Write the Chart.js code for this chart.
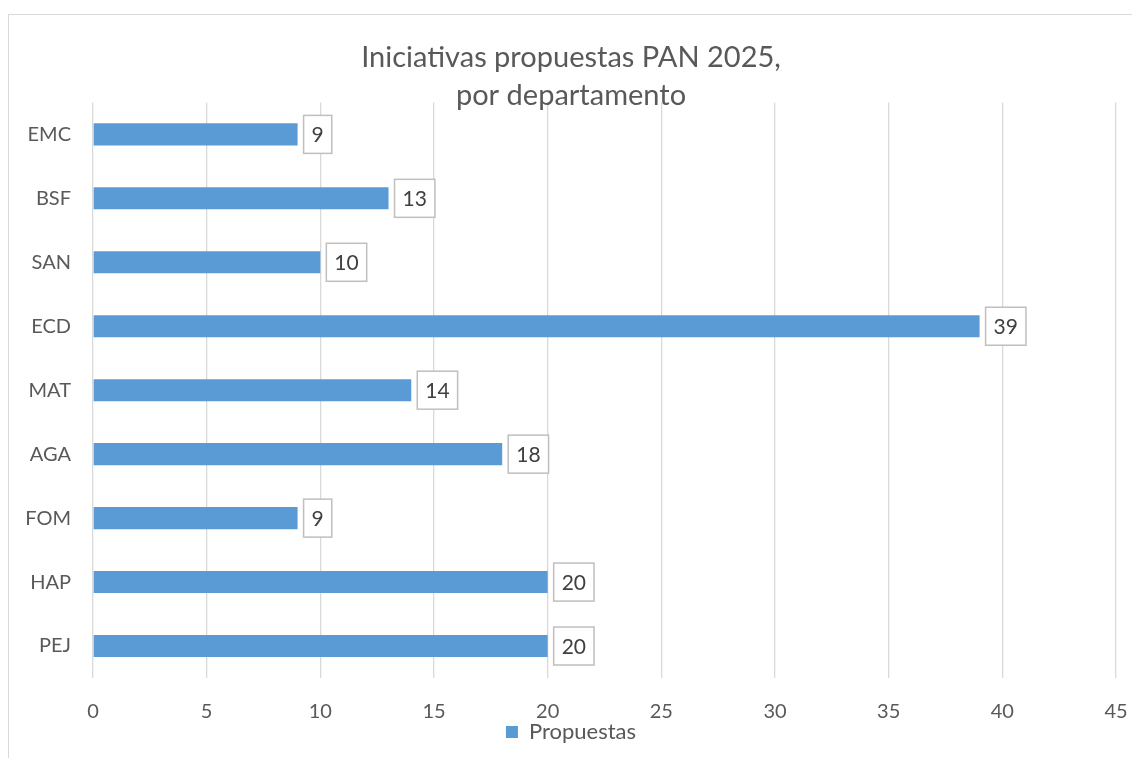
<!DOCTYPE html>
<html>
<head>
<meta charset="utf-8">
<script src="https://cdn.jsdelivr.net/npm/chart.js@4.4.1/dist/chart.umd.min.js"></script>
<style>
  body { margin: 0; background: #fff; }
  .box { position: absolute; left: 8px; top: 14px; width: 1130px; height: 750px; border: 1px solid #d9d9d9; }
  canvas { position: absolute; left: 0; top: 0; }
</style>
</head>
<body>
<div class="box">
  <canvas id="myChart" width="1124" height="744"></canvas>
</div>
<script>
const departamentos = ['EMC', 'BSF', 'SAN', 'ECD', 'MAT', 'AGA', 'FOM', 'HAP', 'PEJ'];
const propuestas = [9, 13, 10, 39, 14, 18, 9, 20, 20];
const tituloLineas = ['Iniciativas propuestas PAN 2025,', 'por departamento'];
const ejeMax = 45;
const ejePaso = 5;

const fuente = 'Lato, "Open Sans", sans-serif';
const gris = '#595959';

// etiquetas con caja blanca al final de cada barra
const etiquetas = {
    id: 'etiquetas',
    afterDatasetsDraw(chart) {
        const ctx = chart.ctx;
        const meta = chart.getDatasetMeta(0);
        ctx.save();
        ctx.font = '21px ' + fuente;
        ctx.textBaseline = 'middle';
        ctx.textAlign = 'left';
        meta.data.forEach((bar, i) => {
            const txt = String(propuestas[i]);
            const w = ctx.measureText(txt).width + 16;
            const h = 38;
            const x = bar.x + 6;
            const y = bar.y - h / 2;
            ctx.fillStyle = '#ffffff';
            ctx.fillRect(x, y, w, h);
            ctx.strokeStyle = '#bfbfbf';
            ctx.lineWidth = 1.5;
            ctx.strokeRect(x, y, w, h);
            ctx.fillStyle = '#404040';
            ctx.fillText(txt, x + 8, bar.y + 1);
        });
        ctx.restore();
    }
};

var config = {
    type: 'bar',
    data: {
        labels: departamentos,
        datasets: [{
            label: 'Propuestas',
            data: propuestas,
            backgroundColor: '#5b9bd5',
            borderWidth: 0,
            barPercentage: 0.345,
            categoryPercentage: 1
        }]
    },
    options: {
        indexAxis: 'y',
        animation: false,
        responsive: false,
        layout: {
            padding: { left: 0, right: 0, top: 0, bottom: 6 }
        },
        plugins: {
            title: {
                display: true,
                text: tituloLineas,
                color: gris,
                font: { family: fuente, size: 29, weight: 'normal', lineHeight: 1.3 },
                padding: { top: 24, bottom: -12 }
            },
            legend: {
                position: 'bottom',
                labels: {
                    color: gris,
                    font: { family: fuente, size: 22 },
                    boxWidth: 12,
                    boxHeight: 12,
                    padding: 0
                }
            },
            tooltip: { enabled: false }
        },
        scales: {
            x: {
                min: 0,
                max: ejeMax,
                ticks: {
                    stepSize: ejePaso,
                    color: gris,
                    font: { family: fuente, size: 20 },
                    padding: 22
                },
                grid: { color: '#d9d9d9', lineWidth: 1.3, drawTicks: false },
                border: { display: false },
                afterFit(s) {
                    s.height = 43;
                    s.paddingRight = 17;
                    s.paddingLeft = 0;
                }
            },
            y: {
                ticks: {
                    color: gris,
                    font: { family: fuente, size: 20 },
                    padding: 22
                },
                grid: { display: false, drawTicks: false },
                border: { display: false },
                afterFit(s) { s.width = 84; }
            }
        }
    },
    plugins: [etiquetas]
};

var ctx = document.getElementById('myChart').getContext('2d');
window.myBar = new Chart(ctx, config);
</script>
</body>
</html>
